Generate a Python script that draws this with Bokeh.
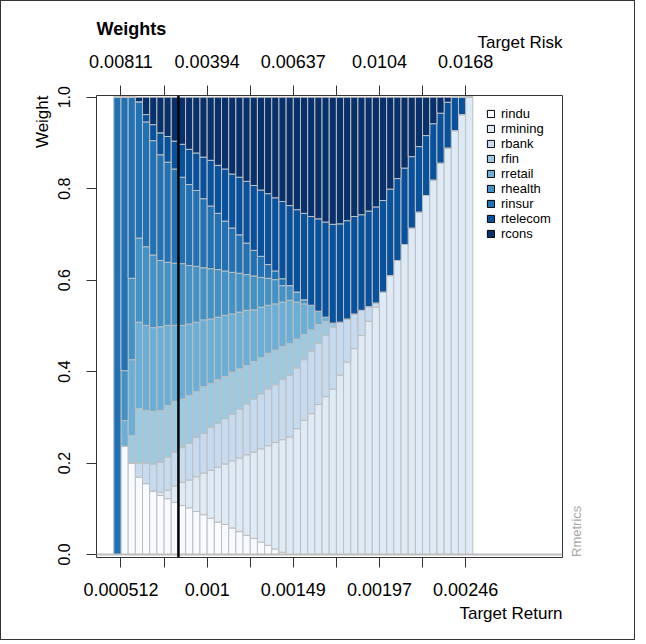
import math
from bokeh.plotting import figure
from bokeh.models import (Range1d, FixedTicker, LinearAxis, Span, Title, Legend, LegendItem,
                          ColumnDataSource)
from bokeh.embed import file_html
from bokeh.resources import INLINE

# ---------------- data ----------------
assets = ["rindu", "rmining", "rbank", "rfin", "rretail", "rhealth", "rinsur", "rtelecom", "rcons"]
colors = ["#F7FBFF", "#DEEBF7", "#C6DBEF", "#9ECAE1", "#6BAED6", "#4292C6", "#2171B5", "#08519C", "#08306B"]

rindu = [0, .237, .200, .169, .155, .139, .129, .122, .114, .107, .102, .094, .087, .079, .071, .066, .058,
         .050, .042, .035, .027, .020, .012, .005, 0, 0, 0, 0, 0, 0, 0, 0, 0, 0, 0, 0, 0, 0, 0, 0, 0, 0, 0,
         0, 0, 0, 0, 0, 0, 0]
rmining = [0, 0, 0, 0, 0, 0, .007, .019, .036, .051, .061, .076, .091, .105, .120, .132, .147, .161, .176,
           .189, .204, .218, .233, .246, .257, .275, .293, .308, .328, .345, .362, .392, .421, .450, .479,
           .510, .541, .574, .610, .643, .678, .714, .749, .785, .819, .856, .889, .927, .962, 1.0]
rbank = [0, 0, 0, .031, .045, .059, .066, .072, .074, .077, .080, .086, .087, .094, .096, .099, .102, .107,
         .111, .116, .120, .124, .126, .132, .135, .133, .133, .137, .134, .134, .135, .116, .094, .076, .055,
         .032, .009, 0, 0, 0, 0, 0, 0, 0, 0, 0, 0, 0, 0, 0]
rfin = [0, 0, .060, .119, .115, .115, .113, .113, .111, .105, .105, .100, .102, .096, .095, .092, .092, .088,
        .084, .082, .080, .078, .076, .072, .069, .063, .055, .046, .041, .031, .009, 0, 0, 0, 0, 0, 0, 0, 0,
        0, 0, 0, 0, 0, 0, 0, 0, 0, 0, 0]
rretail = [0, .056, .166, .189, .186, .183, .183, .175, .166, .161, .156, .152, .146, .141, .137, .134, .127,
           .124, .121, .113, .110, .105, .101, .097, .095, .081, .067, .054, .029, .009, 0, 0, 0, 0, 0, 0, 0,
           0, 0, 0, 0, 0, 0, 0, 0, 0, 0, 0, 0, 0]
rhealth = [0, .109, .178, .184, .172, .159, .145, .138, .136, .135, .128, .122, .114, .110, .104, .097, .091,
           .085, .078, .074, .065, .059, .053, .036, .032, .022, .009, 0, 0, 0, 0, 0, 0, 0, 0, 0, 0, 0, 0, 0,
           0, 0, 0, 0, 0, 0, 0, 0, 0, 0]
rinsur = [1.0, .598, .396, .298, .273, .250, .231, .219, .206, .189, .177, .166, .151, .137, .123, .109, .097,
          .084, .069, .056, .046, .030, .019, .015, 0, 0, 0, 0, 0, 0, 0, 0, 0, 0, 0, 0, 0, 0, 0, 0, 0, 0, 0,
          0, 0, 0, 0, 0, 0, 0]
rtelecom = [0, 0, 0, 0, .016, .035, .048, .056, .061, .072, .077, .082, .091, .100, .105, .114, .118, .126,
            .135, .142, .145, .155, .160, .169, .175, .180, .189, .194, .202, .208, .216, .215, .215, .213,
            .209, .209, .210, .200, .189, .179, .167, .156, .143, .131, .123, .109, .100, .073, .038, 0]
rcons = [0, 0, 0, .010, .038, .060, .078, .086, .096, .103, .114, .122, .131, .138, .149, .157, .168, .175,
         .184, .193, .203, .211, .220, .228, .237, .246, .254, .261, .266, .273, .278, .277, .270, .261, .257,
         .249, .240, .226, .201, .178, .155, .130, .108, .084, .058, .035, .011, 0, 0, 0]

tick_points = [1, 7, 13, 19, 25, 31, 37, 43, 49]
return_labels = ["0.000512", "", "0.001", "", "0.00149", "", "0.00197", "", "0.00246"]
risk_labels = ["0.00811", "", "0.00394", "", "0.00637", "", "0.0104", "", "0.0168"]
weight_ticks = [0.0, 0.2, 0.4, 0.6, 0.8, 1.0]
min_var_point = 9

# ---------------- layout ----------------
W, H = 635, 640
ML, MT = 95, 94
FW, FH = 466, 462
MR, MB = W - ML - FW, H - MT - FH
X0, X1 = -2.41, 62.49
Y0, Y1 = -0.0066, 1.0037
FONT = "Liberation Sans"

p = figure(width=W, height=H, x_range=Range1d(X0, X1), y_range=Range1d(Y0, Y1), title=None,
           output_backend="svg", toolbar_location=None,
           min_border_left=ML, min_border_right=MR, min_border_top=MT, min_border_bottom=MB)
p.styles = {"border": "1px solid #333333"}
p.xgrid.visible = False
p.ygrid.visible = False
p.outline_line_color = "#333333"
p.outline_line_width = 1
p.background_fill_color = "white"

n = len(rindu)
data = dict(x=[i - 0.5 for i in range(1, n + 1)])
for name, vals in zip(assets, [rindu, rmining, rbank, rfin, rretail, rhealth, rinsur, rtelecom, rcons]):
    data[name] = vals
src = ColumnDataSource(data)
p.vbar_stack(assets, x="x", width=1, fill_color=colors, line_color="#BEBEBE", line_width=1, source=src)

p.add_layout(Span(location=0, dimension="width", line_color="#BEBEBE", line_width=2))
p.add_layout(Span(location=min_var_point, dimension="height", line_color="black", line_width=2.5))

def style_axis(ax, size, standoff=13, tick=10):
    ax.axis_line_color = None
    ax.major_tick_out = tick
    ax.major_tick_in = 0
    ax.minor_tick_line_color = None
    ax.major_tick_line_color = "#333333" if tick else None
    ax.major_label_text_font = FONT
    ax.major_label_text_font_size = size
    ax.major_label_text_color = "black"
    ax.major_label_standoff = standoff

xa = p.xaxis[0]
xa.ticker = FixedTicker(ticks=tick_points, minor_ticks=[])
xa.major_label_overrides = {t: l for t, l in zip(tick_points, return_labels)}
style_axis(xa, "18px", standoff=15)

top = LinearAxis(ticker=FixedTicker(ticks=tick_points, minor_ticks=[]),
                 major_label_overrides={t: l for t, l in zip(tick_points, risk_labels)})
style_axis(top, "18px", standoff=18)
p.add_layout(top, "above")

ya = p.yaxis[0]
ya.ticker = FixedTicker(ticks=weight_ticks, minor_ticks=[])
ya.major_label_overrides = {t: f"{t:.1f}" for t in weight_ticks}
ya.major_label_orientation = "parallel"
style_axis(ya, "16px", standoff=16)

# small vertical "Rmetrics" tag on the right, written as a tick label starting at the frame bottom
tag_y = Y0 + 0.5 * (Y1 - Y0) / FH
ra = LinearAxis(ticker=FixedTicker(ticks=[tag_y], minor_ticks=[]),
                major_label_overrides={tag_y: "Rmetrics"})
style_axis(ra, "13px", standoff=14, tick=0)
ra.major_label_orientation = math.pi / 2
ra.major_label_text_color = "#A8A8A8"
p.add_layout(ra, "right")

# titles
def title(text, align, size, standoff, bold=False):
    return Title(text=text, align=align, text_font=FONT, text_font_size=size, text_color="black",
                 text_font_style="bold" if bold else "normal", standoff=standoff)

p.add_layout(title("Target Return", "right", "17px", 7), "below")
p.add_layout(title("Target Risk", "right", "17px", 0), "above")
p.add_layout(title("Weights", "left", "18px", -17, bold=True), "above")
p.add_layout(title("Weight", "right", "17px", 8), "left")

# legend
items = []
for name, c in zip(assets, colors):
    r = p.quad(left=[float("nan")], right=[float("nan")], top=[float("nan")], bottom=[float("nan")],
               fill_color=c, line_color="black", line_width=1)
    items.append(LegendItem(label=name, renderers=[r]))
leg = Legend(items=items, location=(390, 316), glyph_width=9, glyph_height=9, label_height=15,
             spacing=0, padding=0, margin=0, label_standoff=6, border_line_color=None,
             background_fill_alpha=0, label_text_font=FONT, label_text_font_size="13px",
             label_text_color="black")
p.add_layout(leg)

open("out.html", "w").write(file_html(p, INLINE))
